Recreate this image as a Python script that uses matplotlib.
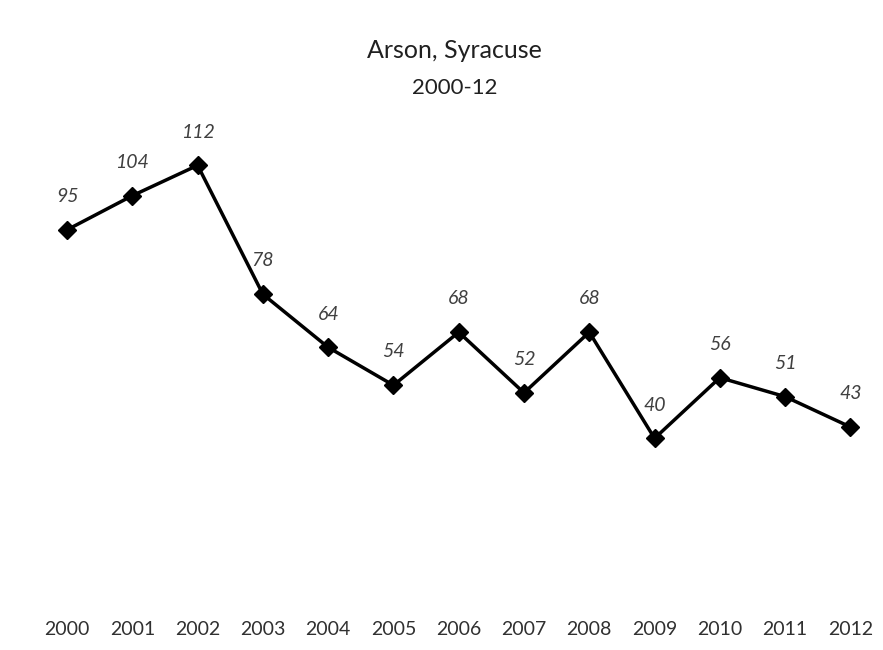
import matplotlib.pyplot as plt

years = list(range(2000, 2013))
arson = [95, 104, 112, 78, 64, 54, 68, 52, 68, 40, 56, 51, 43]

plt.rcParams['font.family'] = ['Lato', 'DejaVu Sans']

fig = plt.figure(figsize=(8.83, 6.5), dpi=100)
ax = fig.add_axes([0.039, 0.0923, 0.961, 0.700])

ax.plot(years, arson, color='black', linewidth=2.5, marker='D', markersize=9)
for x, y in zip(years, arson):
    ax.annotate(str(y), (x, y), xytext=(0, 24), textcoords='offset points',
                ha='center', va='center', fontsize=14, style='italic', color='#404040')

ax.set_xlim(1999.5, 2012.5)
ax.set_ylim(0, 120)
ax.set_xticks(years)
ax.set_xticklabels([str(y) for y in years], fontsize=14, color='#303030')
ax.tick_params(axis='x', length=0, pad=22)
ax.set_yticks([])
for s in ax.spines.values():
    s.set_visible(False)

fig.text(0.515, 0.922, 'Arson, Syracuse', ha='center', va='center', fontsize=18, color='#202020')
fig.text(0.515, 0.864, '2000-12', ha='center', va='center', fontsize=16, color='#202020')

fig.savefig('out.png', dpi=100)
